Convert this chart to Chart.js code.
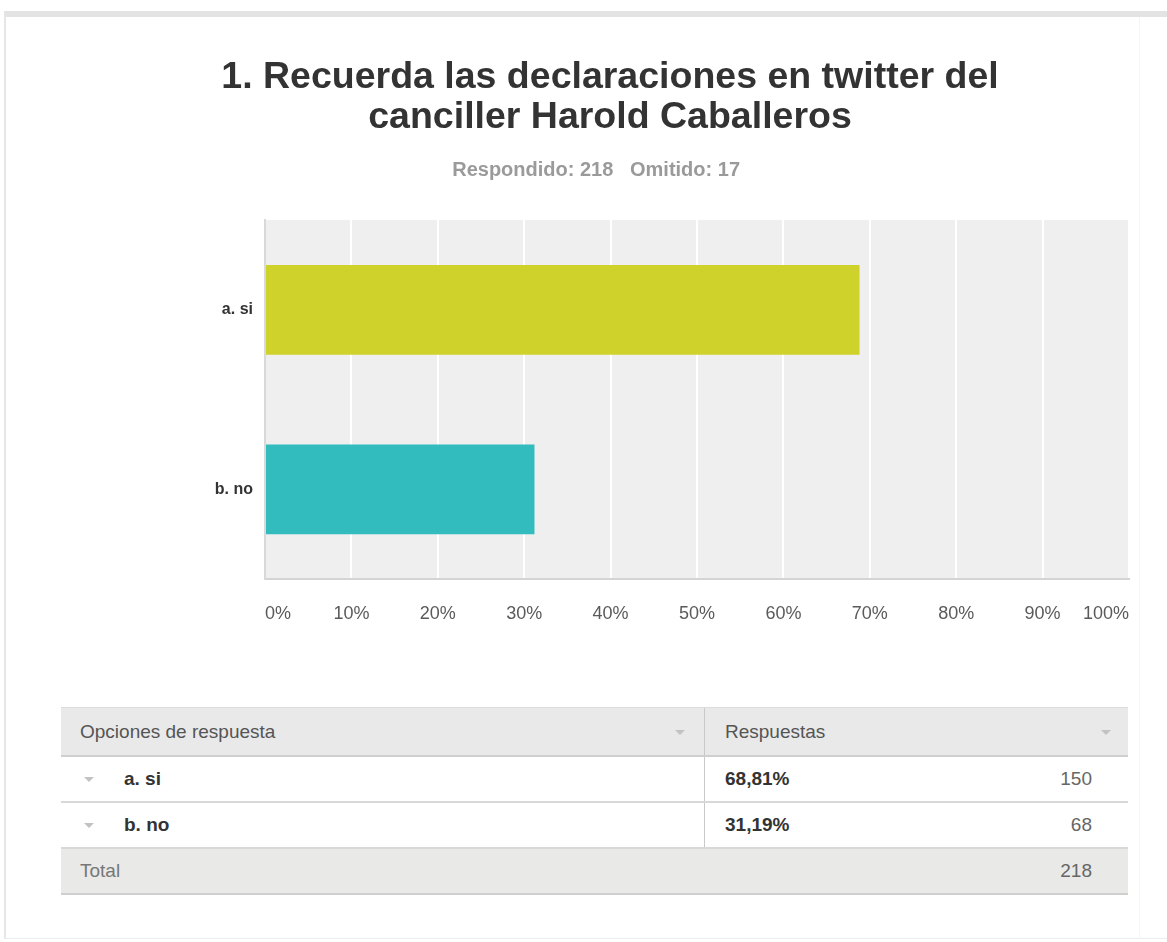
<!DOCTYPE html>
<html>
<head>
<meta charset="utf-8">
<script src="https://cdn.jsdelivr.net/npm/chart.js@4.4.1/dist/chart.umd.min.js"></script>
<style>
  html, body { margin: 0; padding: 0; background: #fff; }
  body { width: 1167px; height: 942px; position: relative; overflow: hidden; font-family: "Liberation Sans", Arial, sans-serif; }
  #frame { position: absolute; left: 4px; top: 11px; width: 1300px; height: 928px; border-left: 2px solid #e6e6e6; border-top: 6px solid #e3e3e3; border-bottom: 1px solid #ececec; box-sizing: border-box; }
  #rline { position: absolute; left: 1139px; top: 17px; width: 1px; height: 922px; background: #f5f5f5; }
  #chartWrap { position: absolute; left: 0; top: 0; width: 1167px; height: 680px; }
  #tbl { position: absolute; left: 61px; top: 707px; width: 1067px; }
  .row { position: relative; box-sizing: border-box; }
  .hdr { height: 50px; background: #e9e9e9; border-top: 1px solid #dcdcdc; border-bottom: 2px solid #cfcfcf; }
  .ans { height: 46px; background: #fff; border-bottom: 2px solid #d8d8d8; }
  .tot { height: 46px; background: #e9e9e8; border-bottom: 2px solid #cfcfcf; }
  .cell { position: absolute; top: 0; bottom: 0; display: flex; align-items: center; font-size: 19px; }
  .div { position: absolute; left: 643px; top: 0; bottom: 0; width: 1px; background: #c9c9c9; }
  .tri { position: absolute; width: 0; height: 0; border-left: 5px solid transparent; border-right: 5px solid transparent; border-top: 5px solid #c2c2c2; }
</style>
</head>
<body>
<div id="frame"></div>
<div id="rline"></div>
<div id="chartWrap"><canvas id="c" width="1167" height="680"></canvas></div>
<div id="tbl"></div>
<script>
// ---- data ----
const titleLines = ['1. Recuerda las declaraciones en twitter del', 'canciller Harold Caballeros'];
const answered = 218;
const skipped = 17;
const categories = ['a. si', 'b. no'];
const percentages = [68.81, 31.19];
const counts = [150, 68];
const barColors = ['#cfd22b', '#32bcbd'];
const tickValues = [0, 10, 20, 30, 40, 50, 60, 70, 80, 90, 100];
const tableHeaders = ['Opciones de respuesta', 'Respuestas'];
const totalLabel = 'Total';

const FONT = '"Liberation Sans", Arial, sans-serif';

const plotBg = {
  id: 'plotBg',
  beforeDraw(chart) {
    const a = chart.chartArea, ctx = chart.ctx;
    ctx.save();
    ctx.fillStyle = '#efefef';
    ctx.fillRect(a.left, a.top, a.right - a.left, a.bottom - a.top);
    ctx.restore();
  }
};

new Chart(document.getElementById('c'), {
  type: 'bar',
  data: {
    labels: categories,
    datasets: [{
      data: percentages,
      backgroundColor: barColors,
      borderWidth: 0,
      barPercentage: 0.5,
      categoryPercentage: 1.0
    }]
  },
  options: {
    indexAxis: 'y',
    responsive: false,
    animation: false,
    devicePixelRatio: 1,
    layout: { padding: { top: 0, right: 38, bottom: 0, left: 91 } },
    plugins: {
      legend: { display: false },
      tooltip: { enabled: false },
      title: {
        display: true,
        text: titleLines,
        color: '#333333',
        font: { family: FONT, size: 37.5, weight: 'bold', lineHeight: '40px' },
        padding: { top: 58, bottom: 0 }
      },
      subtitle: {
        display: true,
        text: 'Respondido: ' + answered + '   Omitido: ' + skipped + '     ',
        color: '#9a9a9a',
        font: { family: FONT, size: 20, weight: 'bold', lineHeight: '20px' },
        padding: { top: 22, bottom: 40 }
      }
    },
    scales: {
      x: {
        min: 0, max: 100,
        afterBuildTicks(scale) { scale.ticks = tickValues.map(v => ({ value: v })); },
        afterFit(scale) { scale.height = 101; },
        grid: { color: '#ffffff', lineWidth: 2, drawTicks: false },
        border: { display: true, color: '#d4d4d4', width: 2 },
        ticks: {
          align: 'inner',
          padding: 24,
          color: '#5a5a5a',
          font: { family: FONT, size: 18 },
          callback: v => v + '%'
        }
      },
      y: {
        afterFit(scale) { scale.width = 174; },
        grid: { display: false, drawTicks: false },
        border: { display: true, color: '#d9d9d9', width: 2 },
        ticks: {
          padding: 12,
          color: '#333333',
          font: { family: FONT, size: 16, weight: 'bold' }
        }
      }
    }
  },
  plugins: [plotBg]
});

// ---- table ----
const tbl = document.getElementById('tbl');
function tri(x, y) { return '<span class="tri" style="left:' + x + 'px;top:' + y + 'px"></span>'; }
function fmtPct(p) { return p.toFixed(2).replace('.', ',') + '%'; }
let html = '';
html += '<div class="row hdr"><div class="div"></div>' +
  '<div class="cell" style="left:19px;color:#555">' + tableHeaders[0] + '</div>' +
  tri(614, 22) +
  '<div class="cell" style="left:664px;color:#555">' + tableHeaders[1] + '</div>' +
  tri(1040, 22) + '</div>';
categories.forEach((c, i) => {
  html += '<div class="row ans"><div class="div"></div>' + tri(23, 20) +
    '<div class="cell" style="left:63px;color:#333;font-weight:bold">' + c + '</div>' +
    '<div class="cell" style="left:664px;color:#333;font-weight:bold">' + fmtPct(percentages[i]) + '</div>' +
    '<div class="cell" style="right:36px;color:#666">' + counts[i] + '</div></div>';
});
const total = counts.reduce((a, b) => a + b, 0);
html += '<div class="row tot">' +
  '<div class="cell" style="left:19px;color:#777">' + totalLabel + '</div>' +
  '<div class="cell" style="right:36px;color:#666">' + total + '</div></div>';
tbl.innerHTML = html;
</script>
</body>
</html>
